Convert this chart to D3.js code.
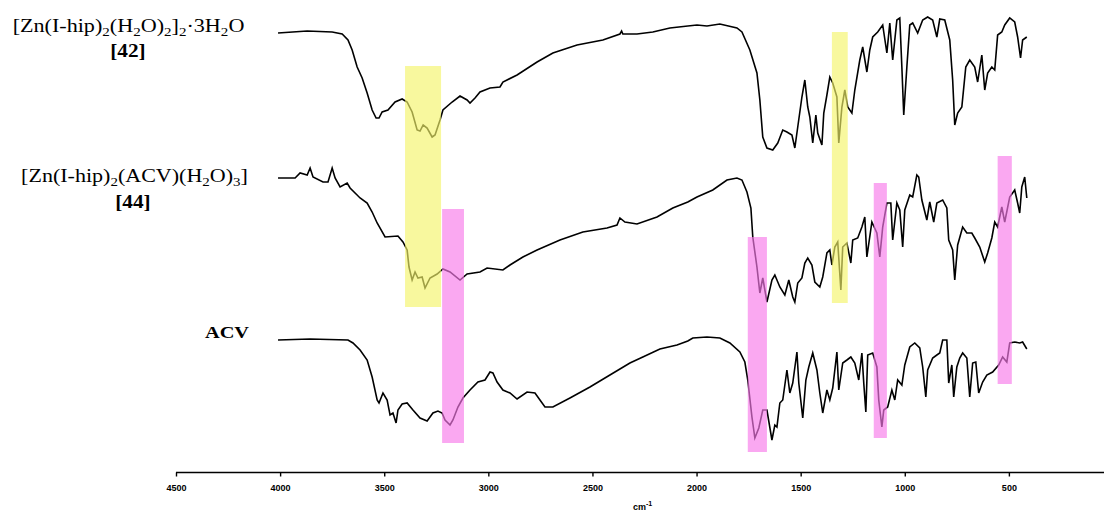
<!DOCTYPE html>
<html><head><meta charset="utf-8">
<script src="https://cdn.jsdelivr.net/npm/d3@7/dist/d3.min.js"></script>
<style>body{margin:0;background:#fff}svg{display:block}</style>
</head><body><svg id="c" width="1104" height="512"></svg>
<script>
// ---- data: wavenumber (cm-1), stacked intensity (a.u.) ----
const tickValues = [4500, 4000, 3500, 3000, 2500, 2000, 1500, 1000, 500];
const axisTitle = "cm";

const spec42 = [[4010,439],[3870,441],[3750,440],[3702,438],[3674,432],[3654,422],[3630,405],[3606,394],[3582,379],[3558,362],[3539,354],[3525,354],[3510,360],[3482,362],[3448,370],[3414,373],[3390,370],[3366,360],[3342,342],[3328,341],[3313,347],[3294,344],[3270,335],[3256,337],[3232,352],[3218,362],[3174,370],[3136,376],[3102,372],[3088,369],[3064,374],[3040,380],[2992,384],[2944,385],[2930,390],[2862,397],[2766,410],[2690,419],[2574,427],[2450,432],[2368,438],[2360,441],[2354,438],[2286,438],[2210,440],[2128,444],[2042,446],[1998,447],[1950,446],[1888,448],[1806,444],[1782,440],[1744,422],[1710,399],[1696,372],[1682,335],[1662,324],[1634,322],[1610,329],[1586,342],[1566,340],[1542,337],[1528,324],[1514,345],[1494,375],[1480,392],[1466,365],[1456,355],[1442,329],[1427,357],[1418,339],[1398,327],[1389,359],[1374,377],[1360,395],[1346,389],[1326,375],[1317,329],[1302,365],[1288,382],[1274,365],[1254,359],[1240,382],[1216,412],[1202,425],[1182,400],[1168,422],[1154,435],[1130,440],[1106,447],[1086,419],[1072,449],[1058,412],[1038,452],[1024,454],[1014,405],[1005,357],[990,405],[976,447],[962,449],[938,439],[914,452],[890,455],[866,452],[846,435],[832,453],[808,452],[784,432],[770,392],[760,347],[746,359],[726,365],[707,405],[688,412],[664,405],[650,390],[630,417],[616,382],[602,399],[582,405],[568,402],[554,437],[534,440],[520,447],[496,454],[472,450],[458,435],[444,414],[434,432],[414,435]];

const spec44 = [[4010,294],[3928,294],[3904,299],[3870,297],[3856,304],[3842,295],[3794,290],[3770,290],[3750,304],[3736,294],[3712,285],[3678,289],[3664,284],[3616,274],[3582,269],[3558,260],[3534,249],[3496,235],[3434,236],[3410,230],[3390,222],[3381,205],[3366,192],[3352,200],[3338,194],[3318,195],[3304,184],[3280,194],[3246,198],[3218,203],[3184,200],[3136,192],[3102,198],[3040,200],[3006,204],[2930,202],[2896,207],[2834,215],[2766,222],[2656,232],[2546,240],[2430,244],[2382,247],[2368,254],[2344,250],[2286,248],[2190,255],[2114,264],[2042,270],[1998,275],[1922,282],[1854,292],[1806,294],[1782,292],[1758,280],[1739,264],[1730,235],[1710,205],[1696,179],[1682,194],[1662,170],[1638,192],[1624,197],[1600,185],[1576,177],[1557,192],[1538,175],[1528,170],[1514,189],[1494,194],[1480,209],[1466,214],[1446,207],[1432,190],[1408,185],[1394,195],[1374,219],[1360,222],[1350,207],[1336,225],[1322,230],[1307,182],[1298,225],[1278,229],[1259,209],[1250,232],[1226,234],[1206,245],[1192,255],[1182,215],[1158,250],[1134,239],[1120,215],[1106,245],[1086,269],[1067,269],[1058,232],[1038,269],[1024,262],[1010,225],[1000,262],[976,277],[962,275],[942,297],[933,295],[918,272],[894,252],[880,270],[861,250],[846,269],[818,272],[798,264],[789,232],[770,222],[760,192],[746,227],[722,245],[702,239],[678,239],[664,234],[640,225],[616,210],[602,219],[582,234],[568,250],[554,245],[534,265],[520,250],[496,275],[472,282],[458,269],[448,259],[438,285],[424,295],[414,274]];

const specACV = [[4010,132],[3856,133],[3674,132],[3650,129],[3616,122],[3582,112],[3558,95],[3534,72],[3525,69],[3506,79],[3486,72],[3472,57],[3458,59],[3443,49],[3434,62],[3414,68],[3390,69],[3362,62],[3328,54],[3294,51],[3266,59],[3242,61],[3222,59],[3208,52],[3184,47],[3170,52],[3146,65],[3122,74],[3088,82],[3050,90],[3016,92],[2992,100],[2978,99],[2958,90],[2930,82],[2896,79],[2862,73],[2814,80],[2776,79],[2752,72],[2728,65],[2690,65],[2608,74],[2512,85],[2416,97],[2320,109],[2258,115],[2176,123],[2094,127],[2042,131],[2018,134],[1950,135],[1888,134],[1840,129],[1792,120],[1768,110],[1754,92],[1734,55],[1720,34],[1701,44],[1682,62],[1662,62],[1638,32],[1624,47],[1614,45],[1600,69],[1586,72],[1566,102],[1552,79],[1538,89],[1518,120],[1509,89],[1490,54],[1475,92],[1461,105],[1442,119],[1422,102],[1408,79],[1394,59],[1374,82],[1360,72],[1346,84],[1326,120],[1317,82],[1298,109],[1278,112],[1259,115],[1240,109],[1221,92],[1206,119],[1197,89],[1187,60],[1178,117],[1154,119],[1134,105],[1125,72],[1110,45],[1101,62],[1082,65],[1062,82],[1048,72],[1034,92],[1014,87],[1000,107],[976,125],[952,129],[928,124],[914,105],[899,75],[890,102],[866,114],[846,117],[832,119],[818,132],[798,132],[789,89],[774,107],[765,75],[750,105],[736,114],[722,119],[702,114],[688,75],[674,109],[659,110],[645,79],[626,90],[606,97],[578,100],[549,107],[530,115],[510,110],[496,129],[472,130],[448,129],[434,130],[414,123]];

// highlighted bands: [wnHigh, wnLow, valTop, valBottom]
const yellowBands = [[3400,3227,406,165],[1350,1274,440,169]];
const pinkBands = [[3222,3117,263,29],[1754,1662,235,20],[1149,1086,289,34],[554,486,316,88]];

// ---- drawing ----
const svg = d3.select("#c");
const x = d3.scaleLinear().domain([4500, 0]).range([176, 1113]);
const y = d3.scaleLinear().domain([0, 472]).range([472, 0]);

const line = d3.line().x(d => x(d[0])).y(d => y(d[1]));
[spec42, spec44, specACV].forEach(s => {
  svg.append("path").attr("d", line(s)).attr("fill", "none")
    .attr("stroke", "#000").attr("stroke-width", 1.6).attr("stroke-linejoin", "miter");
});

function bands(data, color) {
  svg.append("g").selectAll("rect").data(data).join("rect")
    .attr("x", d => x(d[0])).attr("width", d => x(d[1]) - x(d[0]))
    .attr("y", d => y(d[2])).attr("height", d => y(d[3]) - y(d[2]))
    .attr("fill", color).attr("fill-opacity", 0.65);
}
bands(yellowBands, "#f5f56a");
bands(pinkBands, "#f77ae9");

// axis
const axis = d3.axisBottom(x).tickValues(tickValues).tickSize(4).tickSizeOuter(0).tickFormat(d3.format("d"));
const ag = svg.append("g").attr("transform", "translate(0,472.5)").call(axis);
ag.select(".domain").attr("stroke-width", 1.6).attr("d", "M176,0H1104");
ag.selectAll(".tick line").attr("stroke-width", 1.4);
ag.selectAll(".tick text").attr("font-family", "Liberation Sans, Arial, sans-serif")
  .attr("font-weight", "bold").attr("font-size", 9).attr("dy", 0).attr("y", 18).attr("fill", "#000");

const at = svg.append("text").attr("x", 633).attr("y", 510)
  .attr("font-family", "Liberation Sans, Arial, sans-serif").attr("font-weight", "bold").attr("font-size", 9);
at.append("tspan").text(axisTitle);
at.append("tspan").attr("font-size", 7).attr("dy", -4).text("-1");

// labels
const serif = "'Liberation Serif', 'Times New Roman', serif";
function richText(xc, yb, segs, opts) {
  const t = svg.append("text").attr("transform", `translate(${xc},${yb}) scale(${opts.sx || 1},1)`)
    .attr("text-anchor", "middle")
    .attr("font-family", serif).attr("font-size", opts.size).attr("font-weight", opts.weight || "normal");
  let shift = 0;
  segs.forEach(([txt, sub]) => {
    const target = sub ? 4 : 0;
    const sp = t.append("tspan").attr("dy", target - shift).text(txt);
    if (sub) sp.attr("font-size", opts.size * 0.68);
    shift = target;
  });
}
const label42 = [["[Zn(I-hip)",0],["2",1],["(H",0],["2",1],["O)",0],["2",1],["]",0],["2",1],["·3H",0],["2",1],["O",0]];
const label44 = [["[Zn(I-hip)",0],["2",1],["(ACV)(H",0],["2",1],["O)",0],["3",1],["]",0]];
richText(128.5, 32, label42, {size: 19, sx: 1.165});
richText(128, 57, [["[42]",0]], {size: 19, weight: "bold", sx: 1.12});
richText(134.5, 182, label44, {size: 19, sx: 1.16});
richText(133, 208, [["[44]",0]], {size: 19, weight: "bold", sx: 1.12});
richText(227, 338, [["ACV",0]], {size: 17, weight: "bold", sx: 1.2});
</script></body></html>
